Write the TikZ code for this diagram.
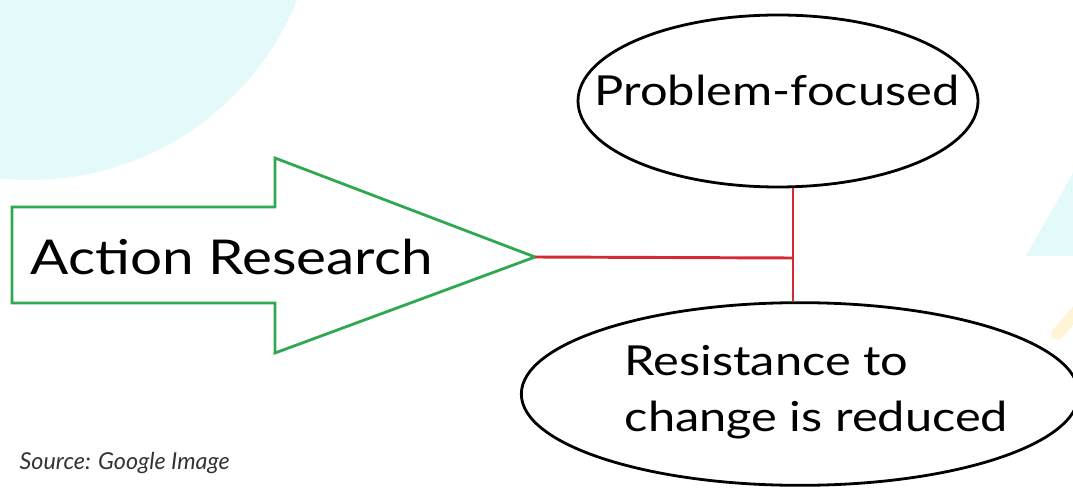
\documentclass[tikz,border=0pt]{standalone}
\usepackage{fontspec}
\setmainfont{Lato}
\newfontfamily\handfont{Lato}[FakeStretch=1.18]
\usetikzlibrary{shapes.geometric}
\definecolor{bgcyan}{HTML}{E4FAFA}
\definecolor{bgyellow}{HTML}{FFF4D6}
\definecolor{arrowgreen}{HTML}{2FA84F}
\definecolor{linkred}{HTML}{D42A33}
\begin{document}
\begin{tikzpicture}[x=0.75pt,y=-0.75pt,
  oval/.style={ellipse,draw=black,line width=2.1pt,inner sep=0pt},
  label/.style={font=\handfont\fontsize{31}{42}\selectfont,text=black},
  link/.style={draw=linkred,line width=2.2pt}]
  \useasboundingbox (0,0) rectangle (1073,488);
  % soft background decoration
  \fill[bgcyan] (30,-108) circle[radius=288];
  \fill[bgcyan] (1026,256) -- (1080,160) -- (1080,256) -- cycle;
  \draw[bgyellow,line width=9pt,line cap=round] (1057,334) -- (1078,310);

  % big block arrow
  \draw[arrowgreen,line width=2.1pt,line join=miter]
    (12,207) -- (275,207) -- (275,158) -- (535,257) -- (275,353) -- (275,303) -- (12,303) -- cycle;
  \coordinate (tip) at (535,257);
  \node[label,font=\handfont\fontsize{36}{42}\selectfont,anchor=west] (ar) at (26,257) {Action Research};

  % outcome ellipses
  \node[oval,minimum width=300pt,minimum height=129pt] (pf) at (778,101) {};
  \node[label] (pft) at (777,90) {Problem-focused};
  \node[oval,minimum width=418pt,minimum height=137pt] (rc) at (800,394) {};
  \node[label,align=left,anchor=west] (rct) at (620,392) {Resistance to\\change is reduced};

  % connectors
  \coordinate (j) at (793,258);
  \draw[link] (tip) -- (j);
  \draw[link] (j |- pf.south) -- (j |- rc.north);

  % caption
  \node[anchor=west,font=\itshape\fontsize{17.5}{20}\selectfont,text=black!80] (src) at (15,463) {Source: Google Image};
\end{tikzpicture}
\end{document}
